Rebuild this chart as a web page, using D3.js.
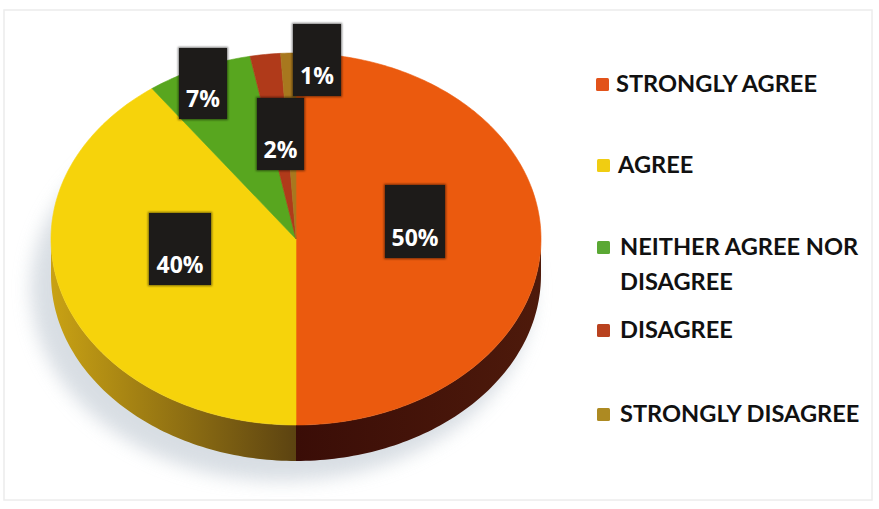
<!DOCTYPE html>
<html><head><meta charset="utf-8">
<script src="https://cdn.jsdelivr.net/npm/d3@7"></script>
<style>body{margin:0;background:#fff}svg{display:block}</style>
</head><body>
<svg id="c" width="879" height="509"></svg>
<script>
// ---- data ----
const categories = ["STRONGLY AGREE","AGREE","NEITHER AGREE NOR DISAGREE","DISAGREE","STRONGLY DISAGREE"];
const values = [50, 40, 7, 2, 1];
const legendLines = [["STRONGLY AGREE"],["AGREE"],["NEITHER AGREE NOR","DISAGREE"],["DISAGREE"],["STRONGLY DISAGREE"]];

// ---- styles / layout ----
const topColors = ["#eb5a0e","#f6d30b","#58a61f","#b03a1a","#a8781e"];
const legendColors = ["#e2531a","#f0cd12","#5aa834","#b9421f","#ad8a22"];
const sideGrad = [["#3a0d07","#4e1a0b"],["#c9a214","#5c4311"],["#3d6a14","#3d6a14"],["#6a2010","#6a2010"],["#6a4a10","#6a4a10"]];
const cx = 296, cy = 239, rx = 245, ry = 186, depth = 36;
const labelLayout = [
  {x:385,y:185,w:60,h:73},{x:149,y:213,w:62,h:72},{x:179,y:48,w:48,h:71},
  {x:257,y:98,w:47,h:72},{x:293,y:24,w:48,h:72}];
const legendLayout = {x:596, ys:[92,173,255,338,422], lineGap:35};

const svg = d3.select("#c");
const defs = svg.append("defs");
defs.append("filter").attr("id","blur").attr("x","-20%").attr("y","-20%").attr("width","140%").attr("height","140%")
  .append("feGaussianBlur").attr("stdDeviation",9);
defs.append("filter").attr("id","blur2").append("feGaussianBlur").attr("stdDeviation",1.2);

// faint photo frame
svg.append("rect").attr("x",4).attr("y",10).attr("width",868).attr("height",490)
  .attr("fill","#fff").attr("stroke","#ececec").attr("stroke-width",1.5);

const pie = d3.pie().sort(null).startAngle(0).endAngle(2*Math.PI);
const arcs = pie(values);
const P = (t, dy=0) => [cx + rx*Math.sin(t), cy - ry*Math.cos(t) + dy];
const line = d3.line();
const range = (a,b,n) => d3.range(n+1).map(i => a + (b-a)*i/n);

// shadow
svg.append("ellipse").attr("cx",cx-14).attr("cy",cy+depth+14).attr("rx",rx+6).attr("ry",ry+6)
  .attr("fill","#cfd6dd").attr("opacity",0.8).attr("filter","url(#blur)");

// sides (gradient stops given left -> right in screen x)
arcs.forEach((a,i) => {
  const s0 = Math.max(a.startAngle, Math.PI/2), s1 = Math.min(a.endAngle, 3*Math.PI/2);
  if (s1 <= s0) return;
  const gid = "sg"+i;
  const xa = P(s0)[0], xb = P(s1)[0];
  const g = defs.append("linearGradient").attr("id",gid).attr("gradientUnits","userSpaceOnUse")
    .attr("x1",Math.min(xa,xb)).attr("x2",Math.max(xa,xb)).attr("y1",0).attr("y2",0);
  g.append("stop").attr("offset",0).attr("stop-color", sideGrad[i][0]);
  g.append("stop").attr("offset",1).attr("stop-color", sideGrad[i][1]);
  const ts = range(s0,s1,80);
  const pts = ts.map(t=>P(t)).concat(ts.slice().reverse().map(t=>P(t,depth)));
  svg.append("path").attr("d", line(pts)+"Z").attr("fill","url(#"+gid+")");
});

// top faces
arcs.forEach((a,i) => {
  const n = Math.max(4, Math.ceil((a.endAngle-a.startAngle)*60));
  const pts = [[cx,cy]].concat(range(a.startAngle,a.endAngle,n).map(t=>P(t)));
  svg.append("path").attr("d", line(pts)+"Z").attr("fill",topColors[i])
    .attr("stroke",topColors[i]).attr("stroke-width",0.6);
});

// value labels
arcs.forEach((a,i) => {
  const L = labelLayout[i];
  svg.append("rect").attr("x",L.x-1).attr("y",L.y-1).attr("width",L.w+2).attr("height",L.h+2)
    .attr("fill","#000").attr("opacity",0.5).attr("filter","url(#blur2)");
  svg.append("rect").attr("x",L.x).attr("y",L.y).attr("width",L.w).attr("height",L.h).attr("fill","#1d1b19");
  svg.append("text").attr("x",L.x+L.w/2).attr("y",L.y+L.h-12).attr("text-anchor","middle")
    .attr("font-family","'Open Sans', sans-serif").attr("font-weight",700).attr("font-size",23)
    .attr("fill","#fff").text(values[i]+"%");
});

// legend
const lg = svg.append("g");
legendLines.forEach((lines,i) => {
  const y = legendLayout.ys[i];
  lg.append("rect").attr("x",legendLayout.x+(i?1:0)).attr("y",y-14).attr("width",13).attr("height",13)
    .attr("rx",1.5).attr("fill",legendColors[i]);
  lines.forEach((t,j) => {
    lg.append("text").attr("x",legendLayout.x+20+(i>=2?4:(i?2:0))).attr("y",y+j*legendLayout.lineGap)
      .attr("font-family","Lato, 'Open Sans', sans-serif").attr("font-weight",700).attr("font-size",23.6)
      .attr("fill","#111").text(t);
  });
});
</script>
</body></html>
